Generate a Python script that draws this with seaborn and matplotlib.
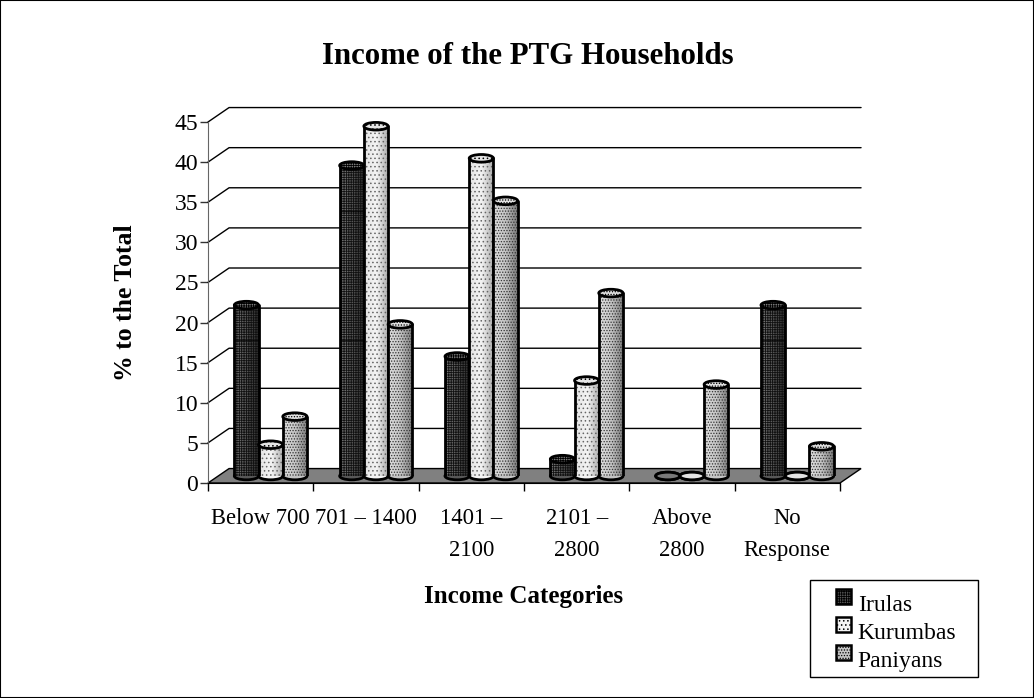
import numpy as np
import pandas as pd
import matplotlib
matplotlib.use("Agg")
import matplotlib.pyplot as plt
from matplotlib.patches import Ellipse, Polygon, Patch, Rectangle
import seaborn as sns

categories = ["Below 700", "701 – 1400", "1401 –\n2100", "2101 –\n2800", "Above\n2800", "No\nResponse"]
irulas = [21.3, 38.7, 14.9, 2.1, 0, 21.3]
kurumbas = [3.9, 43.6, 39.6, 11.9, 0, 0]
paniyans = [7.4, 18.9, 34.3, 22.8, 11.4, 3.7]
groups = ["Irulas", "Kurumbas", "Paniyans"]
y_ticks = [0, 5, 10, 15, 20, 25, 30, 35, 40, 45]
seam_levels = [17, 33]

sns.set_style("white")
plt.rcParams["font.family"] = ["Liberation Serif", "DejaVu Serif"]
plt.rcParams["hatch.linewidth"] = 0.6
plt.rcParams["text.color"] = "black"
plt.rcParams["axes.labelcolor"] = "black"
plt.rcParams["xtick.color"] = "black"
plt.rcParams["ytick.color"] = "black"

df = pd.DataFrame({"cat": categories, "Irulas": irulas, "Kurumbas": kurumbas, "Paniyans": paniyans})
df = df.melt(id_vars="cat", var_name="group", value_name="pct")

W, H = 1034, 698
fig = plt.figure(figsize=(W / 100, H / 100), dpi=100, facecolor="white")
fig.add_artist(Rectangle((0, 0), 1, 1, transform=fig.transFigure, fill=False, ec="black", lw=1.5))

# front plane of the fake 3d box
ax = fig.add_axes([208 / W, (H - 483) / H, 632 / W, 361 / H])
ax.set_xlim(-0.5, 5.5)
ax.set_ylim(0, 45)
ax.patch.set_alpha(0)

# depth of the box in data units
dx, dy = 0.2, 1.8
ax.add_patch(Polygon([(-0.5, 0), (-0.5 + dx, dy), (5.5 + dx, dy), (5.5, 0)], closed=True,
                     fc="#808080", ec="black", lw=1, clip_on=False, zorder=1))
for t in y_ticks[1:]:
    ax.plot([-0.5, -0.5 + dx, 5.5 + dx], [t, t + dy, t + dy], color="black", lw=1, clip_on=False, zorder=1)

ax.set_xticks(range(6))
ax.set_xticklabels(categories, fontsize=16.3, linespacing=1.7)
ax.set_xticks(np.arange(-0.5, 6), minor=True)
ax.set_yticks(y_ticks)
ax.set_yticklabels(y_ticks, fontsize=17)
ax.tick_params(axis="x", which="major", length=0, pad=18)
ax.tick_params(axis="x", which="minor", length=6, width=1, color="black", bottom=True)
ax.tick_params(axis="y", length=6, width=1, color="#333333", left=True, pad=1)
sns.despine(ax=ax, top=True, right=True)
ax.spines["left"].set_color("#666666")
ax.spines["bottom"].set_color("black")
ax.set_xlabel("Income Categories", fontsize=18, fontweight="bold", labelpad=17)
ax.set_ylabel("% to the Total", fontsize=18.5, fontweight="bold", labelpad=27)
fig.text(528 / W, (H - 56) / H, "Income of the PTG Households", ha="center", va="center",
         fontsize=22.2, fontweight="bold")

# bars sit half way into the box
bx = fig.add_axes([(208 + 10) / W, (H - 483 + 7) / H, 632 / W, 361 / H])
bx.patch.set_alpha(0)
sns.barplot(data=df, x="cat", y="pct", hue="group", hue_order=groups, order=categories,
            palette=["#333333", "#dddddd", "#aaaaaa"], width=0.69, gap=0, legend=False, ax=bx)
bx.axis("off")

shades = {
    "Irulas": (["#7a7a7a", "#585858", "#2c2c2c"], "#111111", "+++++++"),
    "Kurumbas": (["#e4e4e4", "#f4f4f4", "#a8a8a8"], "#666666", "...."),
    "Paniyans": (["#e0e0e0", "#c4c4c4", "#787878"], "#333333", "......"),
}
cap_h = 0.95
for i, (name, cont) in enumerate(zip(groups, bx.containers)):
    colors, hatch_c, hatch = shades[name]
    cmap = matplotlib.colors.LinearSegmentedColormap.from_list(name, colors)
    for bar in cont:
        x0, w, h = bar.get_x(), bar.get_width(), bar.get_height()
        bar.set_visible(False)
        z = 3 + i
        xc = x0 + w / 2
        bx.add_patch(Ellipse((xc, 0), w, cap_h, fc=colors[1], ec="black", lw=2, clip_on=False, zorder=z))
        if h > 0:
            bx.imshow(np.linspace(0, 1, 64).reshape(1, -1), extent=(x0, x0 + w, 0, h), cmap=cmap, vmin=0, vmax=1,
                      aspect="auto", zorder=z, interpolation="bilinear")
            bx.add_patch(Rectangle((x0, 0), w, h, fc="none", ec=hatch_c, hatch=hatch, lw=0, zorder=z))
            bx.plot([x0, x0], [0, h], color="black", lw=2, zorder=z)
            bx.plot([x0 + w, x0 + w], [0, h], color="black", lw=2, zorder=z)
            if name == "Irulas":
                for s in seam_levels:
                    if h > s:
                        bx.plot([x0, x0 + w], [s, s], color="black", lw=0.5, zorder=z)
        bx.add_patch(Ellipse((xc, h), w, cap_h, fc=colors[0], ec="black", lw=2, hatch=hatch if h > 0 else None,
                             clip_on=False, zorder=z))
bx.set_xlim(-0.5, 5.5)
bx.set_ylim(0, 45)

# legend box is wider than its contents so frame is separate
fig.add_artist(Rectangle((810 / W, (H - 677) / H), 168 / W, 97 / H, transform=fig.transFigure,
                         fc="white", ec="black", lw=1, zorder=9))
handles = [Patch(fc=shades[g][0][1], ec="black", lw=1.8, hatch=shades[g][2]) for g in groups]
leg = fig.legend(handles, groups, loc="lower left", bbox_to_anchor=(836 / W, (H - 672) / H),
                 bbox_transform=fig.transFigure, fontsize=17, frameon=False,
                 handlelength=0.62, handleheight=0.62, handletextpad=0.3, labelspacing=0.3,
                 borderpad=0, borderaxespad=0)
leg.set_zorder(10)
for h in leg.legend_handles:
    h.set_y(h.get_y() + 4.5)

fig.savefig("out.png", dpi=100)
